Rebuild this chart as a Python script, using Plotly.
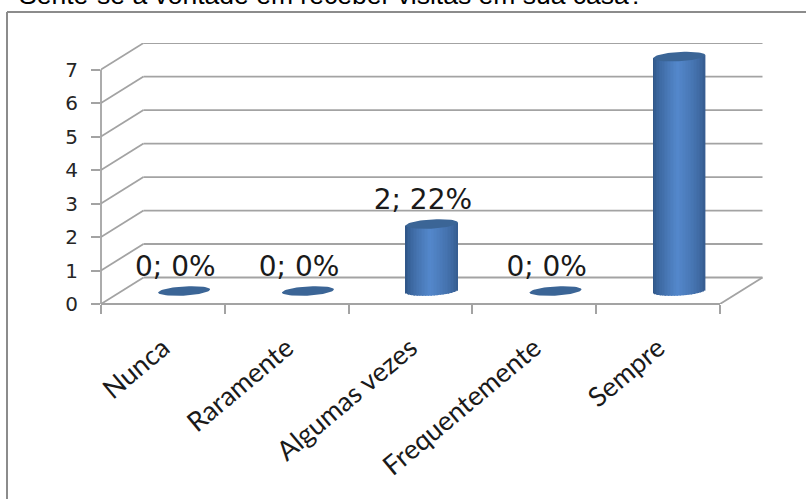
import numpy as np
import plotly.graph_objects as go

categories = ["Nunca", "Raramente", "Algumas vezes", "Frequentemente", "Sempre"]
values = [0, 0, 2, 0, 7]
percents = ["0%", "0%", "22%", "0%", "78%"]
y_ticks = [0, 1, 2, 3, 4, 5, 6, 7]
title_text = "Sente-se à vontade em receber visitas em sua casa?"

W, H = 806, 499
L, R, T, B = 101, 764, 43, 304
X_UNIT = (720 - 101) / 5
Y_UNIT = (304 - 69.6) / 7
DX = 42.5 / X_UNIT
DY = 26.5 / Y_UNIT
x_range = [-0.5, -0.5 + (R - L) / X_UNIT]
y_range = [0, (B - T) / Y_UNIT]
GRID = "#a3a3a3"
GW = 1.8

RX = 26 / X_UNIT
RY = 4.6 / Y_UNIT
TILT = 1.5 / Y_UNIT
CX_OFF = DX / 2
CY_OFF = 13 / Y_UNIT
STRIPS = 34


def shade(u):
    dark_l, dark_r, mid = np.array([44, 82, 130]), np.array([52, 90, 140]), np.array([84, 136, 204])
    peak = -0.05
    if u < peak:
        t = (u + 1) / (peak + 1)
        c = dark_l + (mid - dark_l) * t ** 0.65
    else:
        t = (1 - u) / (1 - peak)
        c = dark_r + (mid - dark_r) * t ** 0.65
    return "rgb(%d,%d,%d)" % tuple(c)


shapes = []


def line(x0, y0, x1, y1, xref="x", yref="y", color=GRID, width=GW):
    shapes.append(dict(type="line", x0=x0, y0=y0, x1=x1, y1=y1, xref=xref, yref=yref,
                       layer="below", line=dict(color=color, width=width)))


for k in y_ticks:
    line(-0.5 + DX, k + DY, 4.5 + DX, k + DY)
    line(-0.5, k, -0.5 + DX, k + DY)
line(4.5, 0, 4.5 + DX, DY)
# front floor edge and vertical axis, referenced to paper on the edge so they are not clipped
line(-0.5, 0, 4.5, 0, yref="paper")
line(0, 0, 0, 7, xref="paper")
# outer chart frame
frame_x = (7 - L) / (R - L)
frame_y = (B - 12) / (B - T)
shapes.append(dict(type="line", xref="paper", yref="paper", x0=frame_x, x1=(W - L) / (R - L),
                   y0=frame_y, y1=frame_y, line=dict(color="#8c8c8c", width=2), layer="below"))
shapes.append(dict(type="line", xref="paper", yref="paper", x0=frame_x, x1=frame_x,
                   y0=frame_y, y1=(B - H) / (B - T), line=dict(color="#8c8c8c", width=2), layer="below"))

fig = go.Figure()

# Cylinder bodies: thin vertical strips carrying the horizontal shading
bx, bw, bb, by, bc = [], [], [], [], []
edges = np.linspace(-1, 1, STRIPS + 1)
for i, v in enumerate(values):
    if v <= 0:
        continue
    for a, b in zip(edges[:-1], edges[1:]):
        u = (a + b) / 2
        cy = CY_OFF - RY * np.sqrt(1 - u * u) + TILT * u
        top = v + CY_OFF + TILT * u
        bx.append(i + CX_OFF + u * RX)
        bw.append((b - a) * RX * 1.06)
        bb.append(cy)
        by.append(top - cy)
        bc.append(shade(u))
fig.add_trace(go.Bar(x=bx, y=by, base=bb, width=bw, marker=dict(color=bc, line=dict(width=0)),
                     hoverinfo="skip", showlegend=False, xaxis="x", yaxis="y"))

# Cylinder caps
t = np.linspace(0, 2 * np.pi, 60)
for i, v in enumerate(values):
    fig.add_trace(go.Scatter(
        x=i + CX_OFF + RX * np.cos(t),
        y=v + CY_OFF + RY * np.sin(t) + TILT * np.cos(t),
        mode="lines", fill="toself", fillcolor="#3b6596", line=dict(width=0),
        hoverinfo="skip", showlegend=False, cliponaxis=False))

# Data labels
fig.add_trace(go.Scatter(
    x=[i + 0.1 for i in range(len(values))],
    y=[v + 1.05 for v in values],
    mode="text",
    text=["%d; %s" % (v, p) for v, p in zip(values, percents)],
    textposition="middle center",
    textfont=dict(family="DejaVu Sans", size=28, color="#1a1a1a"),
    hoverinfo="skip", showlegend=False, cliponaxis=False))

# invisible trace on second x-axis, so the boundary tick marks exist
fig.add_trace(go.Scatter(x=[0], y=[0], xaxis="x2", mode="markers", marker=dict(opacity=0),
                         hoverinfo="skip", showlegend=False))

fig.update_layout(
    width=W, height=H,
    margin=dict(l=L, r=W - R, t=T, b=H - B),
    paper_bgcolor="white", plot_bgcolor="rgba(0,0,0,0)",
    barmode="overlay", showlegend=False,
    shapes=shapes,
    xaxis=dict(range=x_range, tickmode="array", tickvals=list(range(5)), ticktext=categories,
               tickangle=-40, showgrid=False, zeroline=False, showline=False, ticks="",
               ticklen=0, ticklabelstandoff=22,
               tickfont=dict(family="Lato", size=27, color="#1a1a1a"), automargin=False),
    xaxis2=dict(range=x_range, overlaying="x", side="bottom", anchor="y", tickmode="array",
                tickvals=[i - 0.5 for i in range(6)], ticktext=[""] * 6, ticks="outside",
                ticklen=9, tickwidth=1.8, tickcolor=GRID, showgrid=False, zeroline=False,
                showline=False, automargin=False),
    yaxis=dict(range=y_range, tickmode="array", tickvals=y_ticks, ticks="outside", ticklen=9,
               tickwidth=1.8, tickcolor=GRID, showgrid=False, zeroline=False, showline=False,
               ticklabelstandoff=9,
               tickfont=dict(family="DejaVu Sans", size=20, color="#262626"), automargin=False),
    annotations=[dict(text=title_text, xref="paper", yref="paper",
                      x=(18 - L) / (R - L), y=(B - 11) / (B - T), xanchor="left", yanchor="bottom",
                      showarrow=False, font=dict(family="Liberation Sans", size=26.5, color="#000000"),
                      borderpad=0)],
)

fig.write_html("out.html", config=dict(displayModeBar=False),
               post_script="document.body.style.margin='0';")
